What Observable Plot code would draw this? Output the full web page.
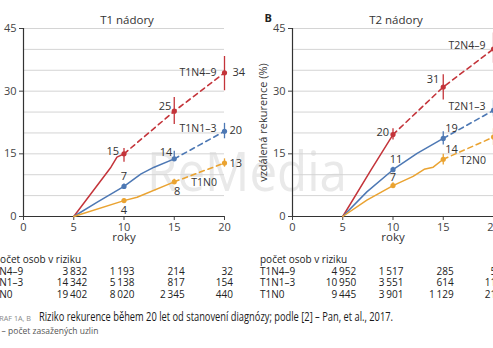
<!DOCTYPE html>
<html><head><meta charset="utf-8">
<script src="https://cdn.jsdelivr.net/npm/d3@7"></script>
<script src="https://cdn.jsdelivr.net/npm/@observablehq/plot@0.6"></script>
<style>
body{margin:0;background:#fff;}
#root{position:relative;width:493px;height:348px;overflow:hidden;font-family:"Open Sans",sans-serif;color:#333;background:#fff;}
.abs{position:absolute;white-space:nowrap;line-height:1;}
.plotbox{position:absolute;top:0;}
.plotbox svg{background:transparent !important;overflow:visible;max-width:none !important;}
</style></head><body><div id="root"></div>
<script>
// ---------------- DATA ----------------
const xTicks = [0, 5, 10, 15, 20];
const yTicks = [0, 15, 30, 45];
const gridSteps = [0, 5, 10, 15, 20, 25, 30, 35, 40, 45];
const dotYears = [10, 15, 20];

// Panel A: T1
const t1Names = ["T1N4–9", "T1N1–3", "T1N0"];
const t1Dots = [[15, 25.2, 34.4], [7.2, 13.8, 20.4], [3.8, 8.3, 12.8]];
const t1CiLow = [[13, 22, 30.1], [6.6, 13.2, 18.6], [3.5, 7.7, 11.8]];
const t1CiHigh = [[16.3, 28.5, 38.3], [7.8, 15.6, 22.3], [4.2, 8.9, 13.8]];
const t1SolidYears = [[5, 8.7, 9.3, 10], [5, 7.3, 10, 11.7, 13, 15], [5, 10, 11.3, 15]];
const t1SolidValues = [[0, 11.8, 14.2, 15], [0, 3.4, 7.2, 10.2, 11.8, 13.8], [0, 3.8, 4.6, 8.3]];

// Panel B: T2
const t2Names = ["T2N4–9", "T2N1–3", "T2N0"];
const t2Dots = [[19.6, 31, 40.1], [11.2, 18.7, 25.4], [7.4, 13.7, 19]];
const t2CiLow = [[18.3, 27.9, 36.7], [10.6, 17.1, 23.8], [6.8, 12.3, 17]];
const t2CiHigh = [[21, 33.9, 43.9], [11.8, 20.3, 27.8], [8.1, 14.9, 21]];
const t2SolidYears = [[5, 7.8, 10], [5, 7.4, 10, 12.4, 15], [5, 7.4, 10, 12, 13.1, 14, 15]];
const t2SolidValues = [[0, 11.1, 19.6], [0, 5.9, 11.2, 15.1, 18.7], [0, 3.9, 7.4, 9.6, 11.3, 11.8, 13.7]];

// Risk tables (počet osob v riziku)
const riskYears = [5, 10, 15, 20];
const t1RiskLabels = ["T1N4–9", "T1N1–3", "T1N0"];
const t1Risk = [["3 832", "1 193", "214", "32"], ["14 342", "5 138", "817", "154"], ["19 402", "8 020", "2 345", "440"]];
const t2RiskLabels = ["T1N4–9", "T1N1–3", "T1N0"];
const t2Risk = [["4 952", "1 517", "285", "58"], ["10 950", "3 551", "614", "118"], ["9 445", "3 901", "1 129", "215"]];

// Texts
const t1Title = "T1 nádory";
const t2Title = "T2 nádory";
const panelBLetter = "B";
const xLabel = "roky";
const yLabel = "vzdálená rekurence (%)";
const riskHeader = "počet osob v riziku";
const captionTag = "GRAF 1A, B";
const captionText = "Riziko rekurence během 20 let od stanovení diagnózy; podle [2] – Pan, et al., 2017.";
const captionNote = "N – počet zasažených uzlin";
const watermark = "ReMedia";

// ---------------- STYLE / LAYOUT ----------------
const colors = ["#c4343a", "#4d78b4", "#eaa331"];
const t1ValueLayout = [
  [["end", -5, -2], ["end", -3, -5], ["start", 8, 0]],
  [["middle", 0, -10], ["end", -2, -6], ["start", 5, -1]],
  [["middle", 0, 10], ["middle", 3, 10], ["start", 5, 0]]
];
const t1NameLayout = [[2, "end", -8, 0], [2, "end", -8, -3], [1, "start", 17, 1]];
const t2ValueLayout = [
  [["end", -4, -2], ["end", -4, -8], ["start", 5, 0]],
  [["middle", 3, -10], ["start", 2, -10], ["start", 5, 0]],
  [["middle", 0, -8], ["start", 2, -10], ["start", 5, 0]]
];
const t2NameLayout = [[2, "end", -8, -3], [2, "end", -8, -4], [1, "start", 17, 1]];

const ML = 80, INNER = 201, MR = 40, MT = 28, H = 250, MB = 34;
const root = document.getElementById("root");

function makePanel(p) {
  const solidRows = [], dashRows = [], dotRows = [], ciRows = [];
  p.names.forEach((name, i) => {
    p.solidYears[i].forEach((yr, j) => solidRows.push({s: name, x: yr, y: p.solidValues[i][j]}));
    const lastSolid = p.solidYears[i][p.solidYears[i].length - 1];
    const lastVal = p.solidValues[i][p.solidValues[i].length - 1];
    dashRows.push({s: name, x: lastSolid, y: lastVal});
    dotYears.forEach((yr, j) => {
      dotRows.push({s: name, x: yr, y: p.dots[i][j], i, j});
      ciRows.push({s: name, x: yr, y1: p.ciLow[i][j], y2: p.ciHigh[i][j]});
      if (yr > lastSolid) dashRows.push({s: name, x: yr, y: p.dots[i][j]});
    });
  });
  const color = {domain: p.names, range: colors};
  const labelMarks = [];
  dotRows.forEach(d => {
    const [anchor, dx, dy] = p.valueLayout[d.i][d.j];
    labelMarks.push(Plot.text([d], {x: "x", y: "y", text: r => String(Math.round(r.y)), textAnchor: anchor, dx, dy, fill: "#333", fontSize: 11}));
  });
  p.names.forEach((name, i) => {
    const [j, anchor, dx, dy] = p.nameLayout[i];
    const d = dotRows.find(r => r.i === i && r.j === j);
    labelMarks.push(Plot.text([d], {x: "x", y: "y", text: () => name, textAnchor: anchor, dx, dy, fill: "#333", fontSize: 10.5}));
  });
  const extra = [];
  if (p.letter) extra.push(Plot.text([p.letter], {frameAnchor: "top-left", dx: -28, dy: -14, fill: "#222", fontSize: 11, fontWeight: "bold"}));
  return Plot.plot({
    width: ML + INNER + MR, height: H,
    marginLeft: ML, marginRight: MR, marginTop: MT, marginBottom: MB,
    x: {domain: [0, 20]},
    y: {domain: [0, 45]},
    color,
    style: {background: "transparent", fontFamily: "Open Sans, sans-serif", fontSize: "11px", color: "#444", maxWidth: "none"},
    marks: [
      Plot.gridY(gridSteps, {stroke: "#d4d4d4", strokeOpacity: 1}),
      Plot.axisX({ticks: xTicks, tickSize: 4, tickPadding: 3, label: null, fontSize: 11}),
      Plot.axisY({ticks: yTicks, tickSize: 4, tickPadding: 3, label: null, fontSize: 11}),
      Plot.ruleY([0], {stroke: "#333", strokeWidth: 1.2}),
      Plot.ruleX([0], {stroke: "#333", strokeWidth: 1.2}),
      Plot.line(dashRows, {x: "x", y: "y", z: "s", stroke: "s", strokeWidth: 1.6, strokeDasharray: "5,4"}),
      Plot.line(solidRows, {x: "x", y: "y", z: "s", stroke: "s", strokeWidth: 1.5}),
      Plot.ruleX(ciRows, {x: "x", y1: "y1", y2: "y2", stroke: "s", strokeWidth: 1.3}),
      Plot.dot(dotRows, {x: "x", y: "y", fill: "s", r: 2.6}),
      ...labelMarks,
      Plot.text([p.title], {frameAnchor: "top", dx: 3, dy: -13, fill: "#333", fontSize: 11.5}),
      Plot.text([xLabel], {frameAnchor: "bottom", dy: 24, fill: "#333", fontSize: 11.5}),
      ...extra
    ]
  });
}

function place(plot, x0page) {
  const box = document.createElement("div");
  box.className = "plotbox";
  box.style.left = (x0page - ML) + "px";
  box.style.width = (ML + INNER + MR) + "px";
  box.style.height = H + "px";
  box.appendChild(plot);
  root.appendChild(box);
  return {x: plot.scale("x"), y: plot.scale("y")};
}

function fitWidth(el, w) {
  const cur = el.getBoundingClientRect().width;
  if (cur > 0) { el.style.transformOrigin = "0 50%"; el.style.transform = `scaleX(${w / cur})`; }
}

// watermark
const wm = document.createElement("div");
wm.className = "abs";
wm.textContent = watermark;
Object.assign(wm.style, {left: "147px", top: "143px", fontSize: "54px", color: "#e9e9e9", fontFamily: "Open Sans, sans-serif"});
root.appendChild(wm);
fitWidth(wm, 200);

const plotA = makePanel({names: t1Names, dots: t1Dots, ciLow: t1CiLow, ciHigh: t1CiHigh, solidYears: t1SolidYears, solidValues: t1SolidValues, valueLayout: t1ValueLayout, nameLayout: t1NameLayout, title: t1Title});
const plotB = makePanel({names: t2Names, dots: t2Dots, ciLow: t2CiLow, ciHigh: t2CiHigh, solidYears: t2SolidYears, solidValues: t2SolidValues, valueLayout: t2ValueLayout, nameLayout: t2NameLayout, title: t2Title, letter: panelBLetter});
const sA = place(plotA, 23);
const sB = place(plotB, 292);

// rotated y label for panel B, centred on the y range
{
  const yMid = (sB.y.apply(0) + sB.y.apply(45)) / 2;
  const lab = document.createElement("div");
  lab.className = "abs"; lab.textContent = yLabel;
  Object.assign(lab.style, {left: "262px", top: yMid + "px", fontSize: "11px", color: "#333"});
  root.appendChild(lab);
  const w = lab.getBoundingClientRect().width, h = lab.getBoundingClientRect().height;
  lab.style.left = (262 - w / 2) + "px";
  lab.style.top = (yMid - h / 2) + "px";
  lab.style.transform = "rotate(-90deg)";
}

const colNudge = [14, 11, 11, 9];
function table(xScale, x0page, labels, rows, hdrOff, rowOff) {
  const base = x0page - ML;
  const px = v => base + xScale.apply(v);
  const hdr = document.createElement("div");
  hdr.className = "abs"; hdr.textContent = riskHeader;
  Object.assign(hdr.style, {left: (px(0) + hdrOff) + "px", top: "254px", fontSize: "10px", color: "#222"});
  root.appendChild(hdr);
  labels.forEach((lab, r) => {
    const top = 266 + r * 11.3;
    const l = document.createElement("div");
    l.className = "abs"; l.textContent = lab;
    Object.assign(l.style, {left: (px(0) + rowOff) + "px", top: top + "px", fontSize: "10px", color: "#222"});
    root.appendChild(l);
    riskYears.forEach((yr, c) => {
      const v = document.createElement("div");
      v.className = "abs"; v.textContent = rows[r][c];
      const right = px(yr) + colNudge[c];
      Object.assign(v.style, {right: (493 - right) + "px", top: top + "px", fontSize: "10px", color: "#222", textAlign: "right", wordSpacing: "-0.8px"});
      root.appendChild(v);
    });
  });
}
table(sA.x, 23, t1RiskLabels, t1Risk, -29, -35);
table(sB.x, 292, t2RiskLabels, t2Risk, -32, -32);

// caption
const tag = document.createElement("div");
tag.className = "abs"; tag.textContent = captionTag;
Object.assign(tag.style, {left: "-6px", top: "315px", fontSize: "7px", color: "#888"});
root.appendChild(tag);
fitWidth(tag, 37);
const cap = document.createElement("div");
cap.className = "abs"; cap.textContent = captionText;
Object.assign(cap.style, {left: "39px", top: "311px", fontSize: "12px", color: "#1a1a1a"});
root.appendChild(cap);
fitWidth(cap, 354);
const note = document.createElement("div");
note.className = "abs"; note.textContent = captionNote;
Object.assign(note.style, {left: "-7px", top: "327px", fontSize: "8.5px", color: "#555"});
root.appendChild(note);
</script>
</body></html>
